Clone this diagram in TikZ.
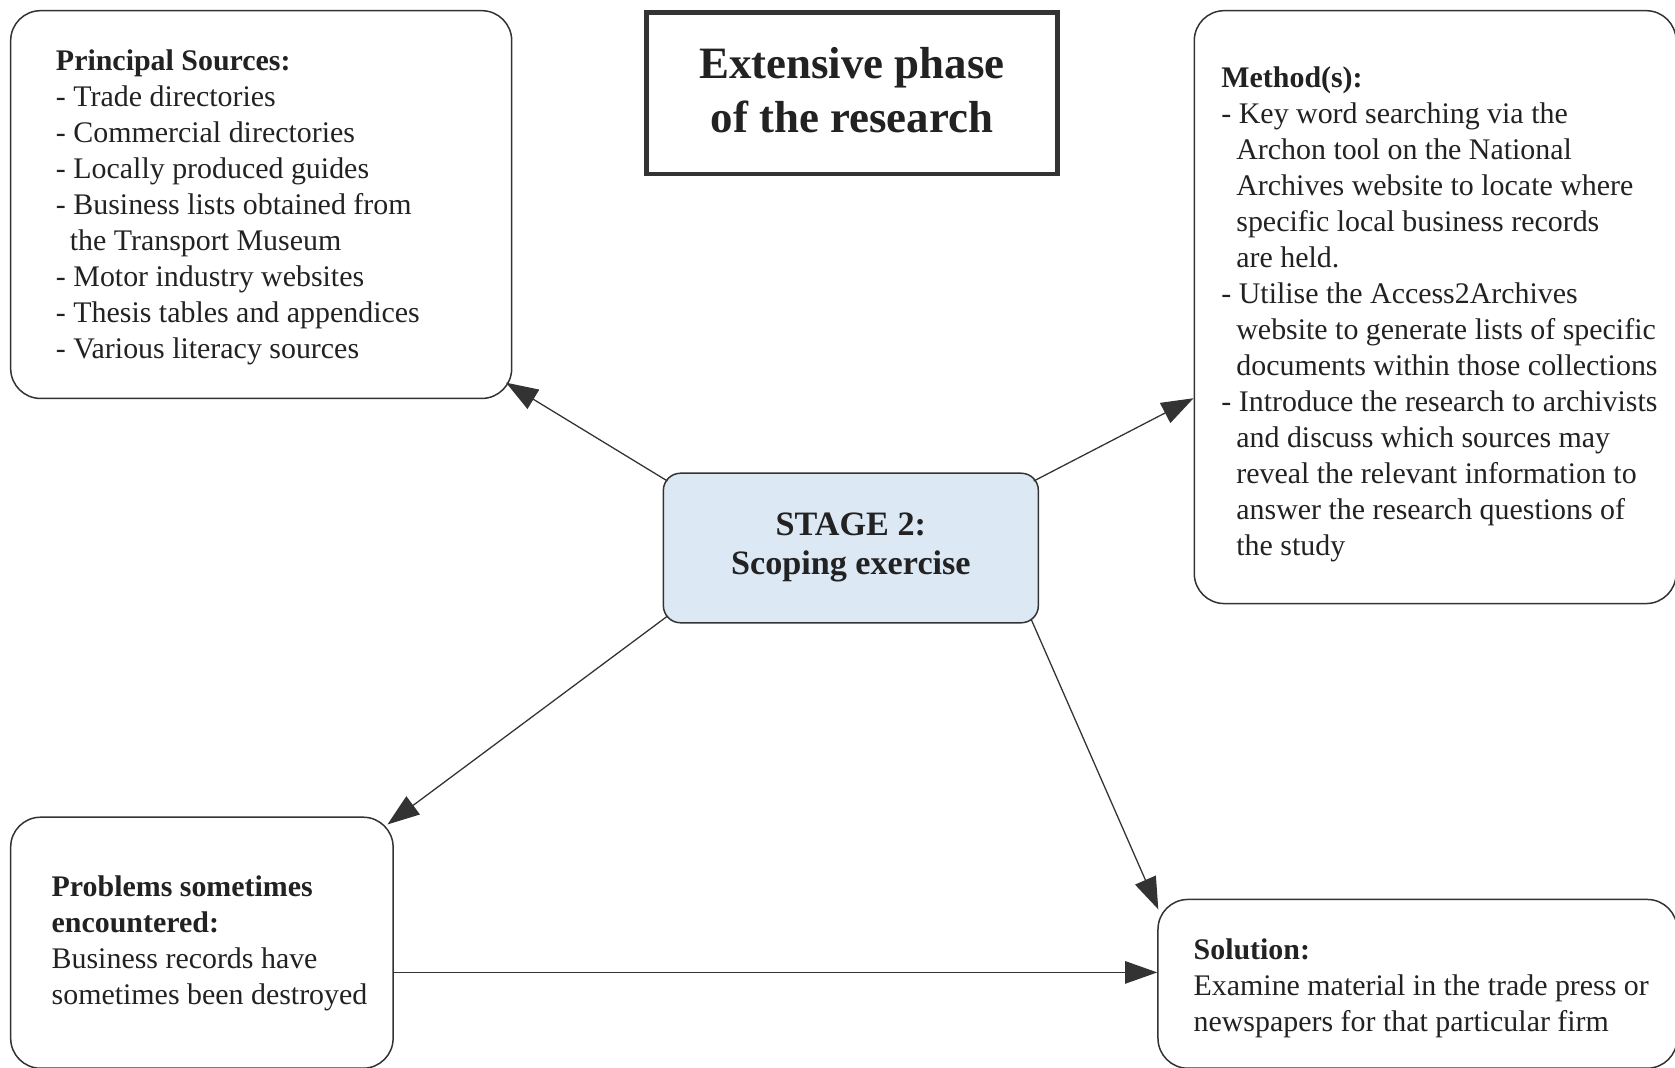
\documentclass[tikz,border=0pt]{standalone}
\usepackage{fontspec}
\setmainfont{Liberation Serif}
\usetikzlibrary{arrows.meta,calc}
\definecolor{edge}{HTML}{333333}
\definecolor{ink}{HTML}{222222}
\definecolor{stagefill}{HTML}{DDE8F5}
\begin{document}
\begin{tikzpicture}[x=0.5pt,y=-0.5pt,
  panel/.style={draw=edge, line width=0.7pt, rounded corners=14pt, inner sep=0pt, fill=white},
  stagebox/.style={draw=edge, line width=0.7pt, rounded corners=8pt, inner sep=0pt, fill=stagefill},
  titlebox/.style={draw=edge, line width=2.2pt, inner sep=0pt},
  body/.style={anchor=north west, align=left, inner sep=0pt, text=ink,
    font={\fontsize{14pt}{16.85pt}\selectfont}},
  arr/.style={draw=edge, line width=0.6pt, -{Triangle[length=15pt,width=10.5pt]}}]
\useasboundingbox (0,0) rectangle (1568,999);
\clip (0,0) rectangle (1568,999);

% boxes
\node[panel, minimum width=234.5pt, minimum height=181.5pt] (src) at (244.5,191.5) {};
\node[titlebox, minimum width=192.5pt, minimum height=75.5pt] (title) at (797.5,87.5) {};
\node[panel, minimum width=225.5pt, minimum height=277.5pt] (meth) at (1343.5,287.5) {};
\node[stagebox, minimum width=175.5pt, minimum height=70pt] (stage) at (796.5,513) {};
\node[panel, minimum width=179pt, minimum height=117.5pt] (prob) at (189,882.5) {};
\node[panel, minimum width=243pt, minimum height=79pt] (sol) at (1327,921) {};

% texts
\node[body] (srctext) at (52,46) {\textbf{Principal Sources:}\\
- Trade directories\\
- Commercial directories\\
- Locally produced guides\\
- Business lists obtained from\\
\hspace*{6.5pt}the Transport Museum\\
- Motor industry websites\\
- Thesis tables and appendices\\
- Various literacy sources};

\node[align=center, inner sep=0pt, text=ink, font={\fontsize{21pt}{25pt}\selectfont\bfseries}]
  (titletext) at (797.5,84.5) {Extensive phase\\of the research};

\node[body] (methtext) at (1143,62) {\textbf{Method(s):}\\
- Key word searching via the\\
\hspace*{7pt}Archon tool on the National\\
\hspace*{7pt}Archives website to locate where\\
\hspace*{7pt}specific local business records\\
\hspace*{7pt}are held.\\
- Utilise the Access2Archives\\
\hspace*{7pt}website to generate lists of specific\\
\hspace*{7pt}documents within those collections\\
- Introduce the research to archivists\\
\hspace*{7pt}and discuss which sources may\\
\hspace*{7pt}reveal the relevant information to\\
\hspace*{7pt}answer the research questions of\\
\hspace*{7pt}the study};

\node[align=center, inner sep=0pt, text=ink, font={\fontsize{16pt}{18.5pt}\selectfont\bfseries}]
  (stagetext) at (796.5,512.5) {STAGE 2:\\Scoping exercise};

\node[body] (probtext) at (48,819.5) {\textbf{Problems sometimes}\\
\textbf{encountered:}\\
Business records have\\
sometimes been destroyed};

\node[body] (soltext) at (1117,878) {\textbf{Solution:}\\
Examine material in the trade press or\\
newspapers for that particular firm};

% connectors
\draw[arr] ($(stage.north west)+(4.5,8)$) -- ($(src.south east)+(-6,-15.5)$);
\draw[arr] ($(stage.north east)+(-5,8)$) -- ($(meth.north west)+(0,363.5)$);
\draw[arr] ($(stage.south west)+(4.6,-7)$) -- ($(prob.north east)+(-6,7.5)$);
\draw[arr] ($(stage.south east)+(-7.6,-4.4)$) -- ($(sol.north west)+(1,10)$);
\draw[arr] ($(prob.north east)+(0,146)$) -- ($(sol.north west)+(0,69)$);
\end{tikzpicture}
\end{document}
